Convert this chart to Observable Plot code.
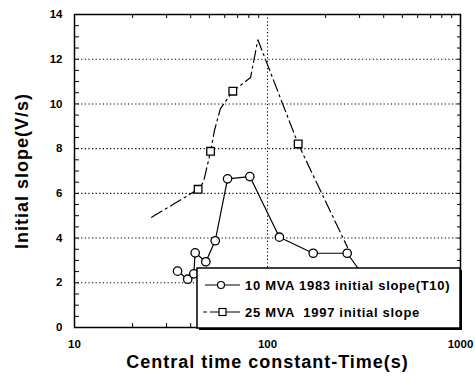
<!DOCTYPE html>
<html><head><meta charset="utf-8">
<script src="https://cdn.jsdelivr.net/npm/d3@7"></script>
<script src="https://cdn.jsdelivr.net/npm/@observablehq/plot@0.6"></script>
<style>body{margin:0;background:#fff}</style>
</head><body><div id="chart"></div>
<script>
// Series 1: 10 MVA 1983 initial slope (T10)
const s1Time  = [34.2, 38.6, 41.5, 42.2, 47.9, 53.6, 62.1, 81.0, 115.3, 172.5, 258.8, 367];
const s1Slope = [2.52, 2.16, 2.40, 3.34, 2.94, 3.88, 6.65, 6.75, 4.04, 3.32, 3.32, 1.5];
// Series 2: 25 MVA 1997 initial slope (line path and marked points)
const s2LineTime  = [25.1, 43.7, 46.6, 50.7, 53.1, 57.0, 66.1, 81.7, 89.1, 144.2, 259.8];
const s2LineSlope = [4.93, 6.18, 6.50, 7.88, 8.81, 9.79, 10.57, 11.18, 12.87, 8.21, 3.58];
const s2MarkTime  = [43.7, 50.7, 66.1, 144.2];
const s2MarkSlope = [6.18, 7.88, 10.57, 8.21];

const seriesNames = ["10 MVA 1983 initial slope(T10)", "25 MVA  1997 initial slope"];
const xLabel = "Central time constant-Time(s)";
const yLabel = "Initial slope(V/s)";

const yTicks = [0, 2, 4, 6, 8, 10, 12, 14];
const yGrid = [2, 4, 6, 8, 10, 12];
const yMinor = [0.5,1,1.5,2,2.5,3,3.5,4,4.5,5,5.5,6,6.5,7,7.5,8,8.5,9,9.5,10,10.5,11,11.5,12,12.5,13,13.5];
const xTicks = [10, 100, 1000];
const xMinor = [20,30,40,50,60,70,80,90,200,300,400,500,600,700,800,900];
const xGrid = [100];

const W = 476, H = 381, mL = 74, mR = 16, mT = 14, mB = 54;
const pW = W - mL - mR, pH = H - mT - mB;
const FONT = "'Liberation Sans', Arial, sans-serif";

const s1 = s1Time.map((t, i) => ({t, v: s1Slope[i]}));
const s2 = s2LineTime.map((t, i) => ({t, v: s2LineSlope[i]}));
const s2m = s2MarkTime.map((t, i) => ({t, v: s2MarkSlope[i]}));

const chart = Plot.plot({
  width: W, height: H,
  marginLeft: mL, marginRight: mR, marginTop: mT, marginBottom: mB,
  style: {fontFamily: FONT, fontWeight: "bold", fontSize: "11px", background: "#fff", color: "#000"},
  x: {type: "log", domain: [10, 1000], axis: null},
  y: {domain: [0, 14], axis: null},
  marks: [
    Plot.ruleY(yGrid, {stroke: "#000", strokeWidth: 1.1, strokeDasharray: "1.2,2.4"}),
    Plot.ruleX(xGrid, {stroke: "#000", strokeWidth: 1.1, strokeDasharray: "1.2,2.4"}),
    Plot.tickY(yMinor, {y: d => d, insetRight: pW - 5, stroke: "#000"}),
    Plot.tickY(yMinor, {y: d => d, insetLeft: pW - 3, stroke: "#000"}),
    Plot.tickX(xMinor, {x: d => d, insetBottom: pH - 4, stroke: "#000"}),
    Plot.tickX(xMinor, {x: d => d, insetTop: pH - 4, stroke: "#000"}),
    Plot.frame({stroke: "#000", strokeWidth: 1.5}),
    Plot.axisY({ticks: yTicks, tickSize: 0, tickPadding: 12, fontSize: 11.5, fontWeight: "bold", label: null}),
    Plot.axisX({ticks: xTicks, tickSize: 0, tickPadding: 12, tickFormat: d => String(d), fontSize: 11.5, fontWeight: "bold", label: null}),
    Plot.text([yLabel], {frameAnchor: "left", textAnchor: "middle", dx: -52, rotate: -90, fontSize: 18, fontWeight: "bold"}),
    Plot.text([xLabel], {frameAnchor: "bottom", textAnchor: "middle", dy: 40, fontSize: 18, fontWeight: "bold"}),
    Plot.line(s2, {x: "t", y: "v", stroke: "#000", strokeWidth: 1.2, strokeDasharray: "12,4,2,4"}),
    Plot.line(s1, {x: "t", y: "v", stroke: "#000", strokeWidth: 1.2}),
    Plot.dot(s1, {x: "t", y: "v", r: 4.2, symbol: "circle", fill: "#fff", stroke: "#000", strokeWidth: 1.3}),
    Plot.dot(s2m, {x: "t", y: "v", r: 4.3, symbol: "square", fill: "#fff", stroke: "#000", strokeWidth: 1.3})
  ]
});

const svg = d3.select(chart);
svg.selectAll("text").filter(function(){ return this.textContent === xLabel || this.textContent === yLabel; }).style("letter-spacing", "1px");
// Legend box overlay
const lg = svg.append("g").attr("text-anchor", "start");
const bx = 197, by = 268, bw = 263, bh = 60;
lg.append("rect").attr("x", bx + 2).attr("y", by + 2).attr("width", bw).attr("height", bh).attr("fill", "#000");
lg.append("rect").attr("x", bx).attr("y", by).attr("width", bw).attr("height", bh).attr("fill", "#fff").attr("stroke", "#000").attr("stroke-width", 1.5);
const rows = [by + 17, by + 44];
lg.append("line").attr("x1", bx + 8).attr("x2", bx + 43).attr("y1", rows[0]).attr("y2", rows[0]).attr("stroke", "#000").attr("stroke-width", 1.2);
lg.append("circle").attr("cx", bx + 24).attr("cy", rows[0]).attr("r", 3.5).attr("fill", "#fff").attr("stroke", "#000").attr("stroke-width", 1.2);
lg.append("line").attr("x1", bx + 6).attr("x2", bx + 43).attr("y1", rows[1]).attr("y2", rows[1]).attr("stroke", "#000").attr("stroke-width", 1.2).attr("stroke-dasharray", "4,3,30");
lg.append("rect").attr("x", bx + 22).attr("y", rows[1] - 3.5).attr("width", 7).attr("height", 7).attr("fill", "#fff").attr("stroke", "#000").attr("stroke-width", 1.2);
seriesNames.forEach((name, i) => {
  lg.append("text").attr("x", bx + 48).attr("y", rows[i]).attr("dy", "0.35em")
    .attr("text-anchor", "start").style("white-space", "pre")
    .attr("font-size", 13).attr("font-weight", "bold")
    .attr("font-family", FONT).style("letter-spacing", "0.7px").attr("fill", "#000").text(name);
});
document.getElementById("chart").appendChild(chart);
</script>
</body></html>
